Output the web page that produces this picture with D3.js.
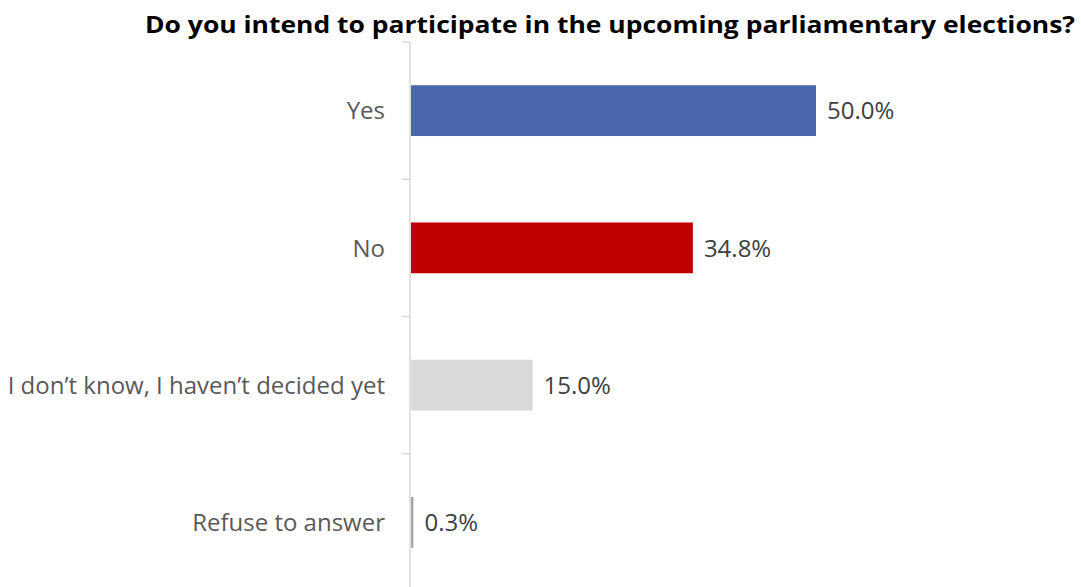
<!DOCTYPE html>
<html>
<head>
  <meta charset="utf-8">
  <title>Parliamentary elections</title>
  <style>
    body { margin: 0; background: #fff; }
    svg { display: block; }
  </style>
</head>
<body>
  <script src="https://d3js.org/d3.v7.min.js"></script>
  <script>
    // chart data
    var categories = ["Yes", "No", "I don\u2019t know, I haven\u2019t decided yet", "Refuse to answer"];
    var values = [50.0, 34.8, 15.0, 0.3];
    var barColors = ["#4A67AE", "#C00000", "#D9D9D9", "#A6A6A6"];
    var title = "Do you intend to participate in the upcoming parliamentary elections?";

    var width = 1081, height = 587;
    var data = categories.map(function(c, i) { return {cat: c, val: values[i], color: barColors[i]}; });

    var svg = d3.select("body").append("svg")
        .attr("width", width)
        .attr("height", height);

    var x = d3.scaleLinear()
        .domain([0, 50])
        .range([411, 816]);

    var y = d3.scaleBand()
        .domain(categories)
        .range([42, 591])
        .paddingInner(0.63)
        .paddingOuter(0.315);

    // title (squeezed to the narrow width of the original)
    svg.append("text")
        .attr("x", 610)
        .attr("y", 33)
        .attr("text-anchor", "middle")
        .style("font-family", "'Open Sans', sans-serif")
        .style("font-weight", "bold")
        .style("font-size", "23px")
        .style("fill", "#000")
        .attr("textLength", 930)
        .attr("lengthAdjust", "spacingAndGlyphs")
        .text(title);

    // bars
    svg.selectAll("rect.bar")
        .data(data)
        .enter().append("rect")
        .attr("class", "bar")
        .attr("x", x(0))
        .attr("y", function(d) { return y(d.cat); })
        .attr("width", function(d) { return Math.max(x(d.val) - x(0), 2); })
        .attr("height", y.bandwidth())
        .style("fill", function(d) { return d.color; });

    // axis line + ticks between categories
    var step = y.step();
    var axis = svg.append("g").attr("class", "axis");
    axis.append("line")
        .attr("x1", 410).attr("x2", 410)
        .attr("y1", y.range()[0]).attr("y2", y.range()[1])
        .style("stroke", "#D9D9D9")
        .style("stroke-width", 1.5);
    var tickYs = d3.range(categories.length + 1).map(function(i) { return y.range()[0] + i * step; });
    axis.selectAll("line.tick")
        .data(tickYs)
        .enter().append("line")
        .attr("class", "tick")
        .attr("x1", 402).attr("x2", 410)
        .attr("y1", function(d) { return d; })
        .attr("y2", function(d) { return d; })
        .style("stroke", "#D9D9D9")
        .style("stroke-width", 1.5);

    // category labels
    svg.selectAll("text.cat")
        .data(data)
        .enter().append("text")
        .attr("class", "cat")
        .attr("x", 385)
        .attr("y", function(d) { return y(d.cat) + y.bandwidth() / 2; })
        .attr("dy", "0.36em")
        .attr("text-anchor", "end")
        .style("font-family", "'Open Sans', sans-serif")
        .style("font-size", "24px")
        .style("fill", "#595959")
        .text(function(d) { return d.cat; });

    // value labels
    svg.selectAll("text.val")
        .data(data)
        .enter().append("text")
        .attr("class", "val")
        .attr("x", function(d) { return Math.max(x(d.val), x(0) + 2) + 11; })
        .attr("y", function(d) { return y(d.cat) + y.bandwidth() / 2; })
        .attr("dy", "0.36em")
        .style("font-family", "'Open Sans', sans-serif")
        .style("font-size", "24px")
        .style("fill", "#404040")
        .text(function(d) { return d.val.toFixed(1) + "%"; });
  </script>
</body>
</html>
